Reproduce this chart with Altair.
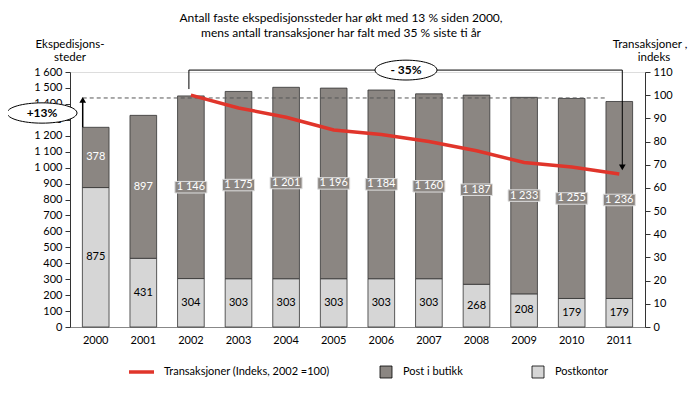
import altair as alt
import pandas as pd

# ---------------- data ----------------
years = [str(y) for y in range(2000, 2012)]
postkontor = [875, 431, 304, 303, 303, 303, 303, 303, 268, 208, 179, 179]
post_i_butikk = [378, 897, 1146, 1175, 1201, 1196, 1184, 1160, 1187, 1233, 1255, 1236]
transaksjoner = [None, None, 100, 94.5, 90.5, 85, 83, 80, 76, 71, 69, 66]

title_lines = ["Antall faste ekspedisjonssteder har økt med 13 % siden 2000,",
               "mens antall transaksjoner har falt med 35 % siste ti år"]
left_title = ["Ekspedisjons-", "steder"]
right_title = ["Transaksjoner ,", "indeks"]
legend_labels = ["Transaksjoner (Indeks, 2002 =100)", "Post i butikk", "Postkontor"]

ref_level = 1437       # dashed reference level
bracket_level = 1612   # top of the -35 % bracket

FONT = "Lato, Open Sans, sans-serif"
DARK = "#8b8682"
LIGHT = "#d6d6d6"
RED = "#e0352b"


def fmt(v):
    return f"{v:,}".replace(",", " ")


df = pd.DataFrame({"year": years, "pk": postkontor, "pib": post_i_butikk, "idx": transaksjoner})
df["total"] = df["pk"] + df["pib"]
df["mid_pk"] = df["pk"] / 2
df["mid_pib"] = df["pk"] + df["pib"] / 2
df["lab_pk"] = df["pk"].map(fmt)
df["lab_pib"] = df["pib"].map(fmt)
boxed = df[df["pib"] >= 1000]
unboxed = df[df["pib"] < 1000]

xscale = alt.Scale(domain=years, paddingInner=0.44, paddingOuter=0.26)
XAXIS = alt.Axis(title=None, labelAngle=0, ticks=False, domainColor="#888888",
                 labelFontSize=11, labelPadding=7, labelColor="#000000", labelFont=FONT)
yscale = alt.Scale(domain=[0, 1600], nice=False, zero=True)
LAXIS = alt.Axis(title=None, values=list(range(0, 1601, 100)),
                 labelExpr="replace(format(datum.value, ','), ',', ' ')",
                 grid=False, tickSize=5, domainColor="#333333", tickColor="#333333",
                 labelFontSize=11, labelPadding=3, labelColor="#000000", labelFont=FONT)


def XF(field):
    return alt.X(field, scale=xscale, axis=XAXIS)


def YF(field):
    return alt.Y(field, scale=yscale, axis=LAXIS)


base = alt.Chart(df)

bar_light = base.mark_bar(color=LIGHT, stroke="#333333", strokeWidth=0.8).encode(
    x=XF("year:O"), y=YF("pk:Q")
)
bar_dark = base.mark_bar(color=DARK, stroke="#333333", strokeWidth=0.8).encode(
    x=XF("year:O"), y=YF("pk:Q"), y2="total:Q"
)

lab_low = base.mark_text(fontSize=11, color="#000000", font=FONT).encode(
    x=XF("year:O"), y=YF("mid_pk:Q"), text="lab_pk:N"
)
lab_top_plain = alt.Chart(unboxed).mark_text(fontSize=11, color="#ffffff", font=FONT).encode(
    x=XF("year:O"), y=YF("mid_pib:Q"), text="lab_pib:N"
)
box_shape = "M -1 -0.36 L 1 -0.36 L 1 0.36 L -1 0.36 Z"
lab_top_box = alt.Chart(boxed).mark_point(shape=box_shape, size=1024, filled=True, fill=DARK,
                                          stroke="#dedede", strokeWidth=1, opacity=1).encode(
    x=XF("year:O"), y=YF("mid_pib:Q")
)
lab_top_boxtext = alt.Chart(boxed).mark_text(fontSize=11, color="#ffffff", font=FONT).encode(
    x=XF("year:O"), y=YF("mid_pib:Q"), text="lab_pib:N"
)

# dashed reference line
dash_df = pd.DataFrame({"year": ["2000"], "x2": ["2011"], "y": [ref_level]})
dashed = alt.Chart(dash_df).mark_rule(color="#555555", strokeDash=[4, 3], strokeWidth=1,
                                      xOffset=-13, x2Offset=-13).encode(
    x=XF("year:O"), x2="x2:O", y=YF("y:Q")
)

# +13 % arrow
up_df = pd.DataFrame({"year": ["2000"], "y": [df["total"][0]], "y2": [ref_level - 25], "tip": [ref_level - 12]})
up_line = alt.Chart(up_df).mark_rule(color="#000000", strokeWidth=1.5, xOffset=-13).encode(
    x=XF("year:O"), y=YF("y:Q"), y2="y2:Q"
)
up_head = alt.Chart(up_df).mark_point(shape="triangle-up", size=45, filled=True, color="#000000",
                                      opacity=1, xOffset=-13).encode(
    x=XF("year:O"), y=YF("tip:Q")
)

# -35 % bracket
br_df = pd.DataFrame({"year": ["2002"], "x2": ["2011"], "y": [bracket_level], "ystart": [1493]})
br_end = pd.DataFrame({"year": ["2011"], "y": [bracket_level], "yend": [1012], "tip": [1002]})
br_left = alt.Chart(br_df).mark_rule(color="#000000", strokeWidth=1, xOffset=-2).encode(
    x=XF("year:O"), y=YF("ystart:Q"), y2="y:Q"
)
br_top = alt.Chart(br_df).mark_rule(color="#000000", strokeWidth=1, xOffset=-2, x2Offset=3).encode(
    x=XF("year:O"), x2="x2:O", y=YF("y:Q")
)
br_right = alt.Chart(br_end).mark_rule(color="#000000", strokeWidth=1, xOffset=3).encode(
    x=XF("year:O"), y=YF("y:Q"), y2="yend:Q"
)
br_head = alt.Chart(br_end).mark_point(shape="triangle-down", size=45, filled=True, color="#000000",
                                       opacity=1, xOffset=3).encode(
    x=XF("year:O"), y=YF("tip:Q")
)

ell_wide = "M -1 0 A 1 0.32 0 1 0 1 0 A 1 0.32 0 1 0 -1 0 Z"
ell35_df = pd.DataFrame({"y": [bracket_level], "t": ["- 35%"]})
ell35 = alt.Chart(ell35_df).mark_point(shape=ell_wide, size=62 * 62, filled=True, fill="#ffffff",
                                       stroke="#000000", strokeWidth=1, opacity=1).encode(
    x=alt.value(336), y=YF("y:Q")
)
ell35_t = alt.Chart(ell35_df).mark_text(fontSize=12, fontWeight="bold", font=FONT, color="#000000").encode(
    x=alt.value(336), y=YF("y:Q"), text="t:N"
)

one = pd.DataFrame({"a": [0]})
ell_13 = "M -1 0 A 1 0.29 0 1 0 1 0 A 1 0.29 0 1 0 -1 0 Z"
ell13 = alt.Chart(one).mark_point(shape=ell_13, size=70 * 70, filled=True, fill="#ffffff",
                                  stroke="#000000", strokeWidth=1, opacity=1).encode(
    x=alt.value(-28), y=alt.value(41)
)
ell13_t = alt.Chart(one).mark_text(fontSize=12, fontWeight="bold", font=FONT, color="#000000").encode(
    x=alt.value(-28), y=alt.value(41), text=alt.value("+13%")
)


def txt(s, x, y, size=12.5, align="center"):
    return alt.Chart(one).mark_text(fontSize=size, font=FONT, color="#000000", align=align,
                                    baseline="middle").encode(
        x=alt.value(x), y=alt.value(y), text=alt.value(s)
    )


titles = [
    txt(title_lines[0], 271, -54, 12), txt(title_lines[1], 271, -39, 12),
    txt(left_title[0], 0, -27, 11.5), txt(left_title[1], 0, -14, 11.5),
    txt(right_title[0], 580, -27, 11.5), txt(right_title[1], 584, -14, 11.5),
]

# legend
leg_line = alt.Chart(one).mark_rule(color=RED, strokeWidth=3.5).encode(
    x=alt.value(59), x2=alt.value(84), y=alt.value(300)
)
leg_dark = alt.Chart(one).mark_square(size=144, filled=True, fill=DARK, stroke="#000000",
                                      strokeWidth=0.8, opacity=1).encode(x=alt.value(316), y=alt.value(300))
leg_light = alt.Chart(one).mark_square(size=144, filled=True, fill=LIGHT, stroke="#000000",
                                       strokeWidth=0.8, opacity=1).encode(x=alt.value(468), y=alt.value(300))
legend = [
    leg_line, leg_dark, leg_light,
    txt(legend_labels[0], 94, 300, 11, "left"),
    txt(legend_labels[1], 333, 300, 11, "left"),
    txt(legend_labels[2], 485, 300, 11, "left"),
]

left_group = alt.layer(bar_light, bar_dark, lab_low, lab_top_plain, lab_top_box, lab_top_boxtext,
                       dashed, up_line, up_head, br_left, br_top, br_right, br_head,
                       ell35, ell35_t, ell13, ell13_t, *titles, *legend)

line = base.mark_line(color=RED, strokeWidth=3.5).encode(
    x=XF("year:O"),
    y=alt.Y("idx:Q", scale=alt.Scale(domain=[0, 110], nice=False),
            axis=alt.Axis(orient="right", title=None, values=list(range(0, 111, 10)), grid=False,
                          tickSize=5, domainColor="#333333", tickColor="#333333",
                          labelFontSize=11, labelPadding=3, labelColor="#000000", labelFont=FONT)),
)

chart = alt.layer(left_group, line).resolve_scale(y="independent").properties(
    width=575, height=255,
    autosize=alt.AutoSizeParams(type="none"),
    padding={"left": 62, "top": 64, "right": 45, "bottom": 62},
).configure_view(stroke=None).configure(font=FONT, background="#ffffff")

chart.save("out.html", embed_options={"renderer": "svg", "actions": False})
